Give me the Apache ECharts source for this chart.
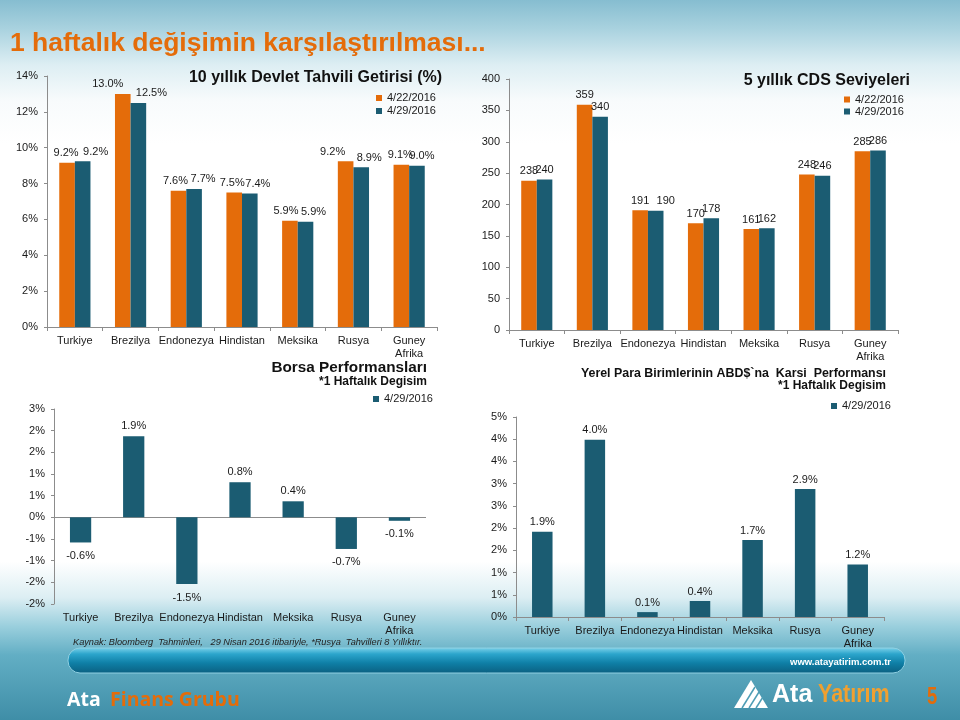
<!DOCTYPE html>
<html><head><meta charset="utf-8">
<script src="https://cdn.jsdelivr.net/npm/echarts@6/dist/echarts.min.js"></script>
<style>html,body{margin:0;padding:0;background:#fff}#c{width:960px;height:720px}</style>
</head><body><div id="c"></div>
<script>
// ---- data ----
const categories = ['Turkiye','Brezilya','Endonezya','Hindistan','Meksika','Rusya','Guney\nAfrika'];
const dates = ['4/22/2016','4/29/2016'];
const bondApr22 = [9.16, 13.0, 7.6, 7.5, 5.93, 9.24, 9.05];
const bondApr29 = [9.24, 12.5, 7.7, 7.44, 5.87, 8.91, 9.0];
const cdsApr22 = [238, 359, 191, 170, 161, 248, 285];
const cdsApr29 = [240, 340, 190, 178, 162, 246, 286];
const borsaApr29 = [-0.58, 1.87, -1.54, 0.81, 0.37, -0.73, -0.08];
const fxApr29 = [1.92, 3.99, 0.11, 0.36, 1.73, 2.88, 1.18];
const bondTicks = ['0%','2%','4%','6%','8%','10%','12%','14%'];
const borsaTicks = ['-2%','-2%','-1%','-1%','0%','1%','1%','2%','2%','3%'];
const fxTicks = ['0%','1%','1%','2%','2%','3%','3%','4%','4%','5%'];

// ---- style: horizontal nudges of the value labels (px), as placed in the original ----
const bondLabelShift22 = [-1, -15, -3, -2, -4, -13, -1];
const bondLabelShift29 = [13, 13, 9, 8, 8, 8, 5];
const cdsLabelShift29 = [0, 0, 10, 0, 0, 0, 0];

const ORANGE = '#E46C0A', TEAL = '#1B5C72';
const FONT = '"Liberation Sans", Arial, sans-serif';
const txt = '#1a1a1a';
const AXC = '#8c8c8c';

function yAx(grid, min, max, interval, fmt) {
  return {type:'value', gridIndex:grid, min, max, interval,
    axisLine:{show:true, onZero:false, lineStyle:{color:AXC}},
    axisTick:{show:true, length:3, lineStyle:{color:AXC}},
    splitLine:{show:false},
    axisLabel:{formatter:fmt, color:txt, fontSize:11, fontFamily:FONT, margin:9}};
}
function xAx(grid, opts) {
  return Object.assign({type:'category', gridIndex:grid, data:categories, position:'bottom',
    axisLine:{show:true, onZero:false, lineStyle:{color:AXC}},
    axisTick:{show:true, length:4, interval:0, lineStyle:{color:AXC}},
    axisLabel:{color:txt, fontSize:11, fontFamily:FONT, margin:7, lineHeight:13, interval:0}}, opts||{});
}
function lbl(fmt) {
  return {show:true, position:'top', distance:4, color:txt, fontSize:11, fontFamily:FONT, formatter:fmt};
}
const pct1 = p => p.value.toFixed(1) + '%';
const withShift = (vals, shifts) => vals.map((v,i) => ({value:v, label:{offset:[shifts[i],0]}}));

const chart = echarts.init(document.getElementById('c'), null, {renderer:'canvas'});

const bgGrad = new echarts.graphic.LinearGradient(0,0,0,1,[
  {offset:0, color:'#86BDD0'},{offset:0.04, color:'#A9D2DF'},{offset:0.09, color:'#DDEEF3'},
  {offset:0.14, color:'#F8FBFC'},{offset:0.2, color:'#FFFFFF'},{offset:0.78, color:'#FFFFFF'},
  {offset:0.83, color:'#DCEEF3'},{offset:0.87, color:'#9ACFDD'},{offset:0.91, color:'#62AEC4'},
  {offset:1, color:'#3F8EA7'}]);
const barGrad = new echarts.graphic.LinearGradient(0,0,0,1,[
  {offset:0, color:'#7FD3EA'},{offset:0.25, color:'#2CA5CC'},{offset:0.6, color:'#0F7FA6'},{offset:1, color:'#0B5F80'}]);

const legendBase = {orient:'vertical', padding:0, itemWidth:6, itemHeight:6, icon:'rect', textStyle:{fontSize:11, color:txt, fontFamily:FONT}};

chart.setOption({
  animation:false,
  textStyle:{fontFamily:FONT},
  graphic:[
    {type:'rect', z:-10, shape:{x:0,y:0,width:960,height:720}, style:{fill:bgGrad}},
    {type:'rect', z:-5, shape:{x:68,y:648,width:837,height:25,r:12}, style:{fill:barGrad, stroke:'#8fd0e2', lineWidth:1}},
    {type:'text', x:10, y:44, style:{text:'1 haftalık değişimin karşılaştırılması...', font:'bold 26.5px '+FONT, fill:ORANGE, verticalAlign:'middle'}},
    {type:'text', x:315.5, y:78, style:{text:'10 yıllık Devlet Tahvili Getirisi (%)', font:'bold 16px '+FONT, fill:'#111', align:'center', verticalAlign:'middle'}},
    {type:'text', x:910, y:81, style:{text:'5 yıllık CDS Seviyeleri', font:'bold 16px '+FONT, fill:'#111', align:'right', verticalAlign:'middle'}},
    {type:'text', x:427, y:368, style:{text:'Borsa Performansları', font:'bold 15.3px '+FONT, fill:'#111', align:'right', verticalAlign:'middle'}},
    {type:'text', x:427, y:382, style:{text:'*1 Haftalık Degisim', font:'bold 12px '+FONT, fill:'#111', align:'right', verticalAlign:'middle'}},
    {type:'text', x:886, y:374, style:{text:'Yerel Para Birimlerinin ABD$`na  Karsi  Performansı', font:'bold 12.4px '+FONT, fill:'#111', align:'right', verticalAlign:'middle'}},
    {type:'text', x:886, y:386, style:{text:'*1 Haftalık Degisim', font:'bold 12px '+FONT, fill:'#111', align:'right', verticalAlign:'middle'}},
    {type:'text', x:73, y:642.5, style:{text:'Kaynak: Bloomberg  Tahminleri,   29 Nisan 2016 itibariyle, *Rusya  Tahvilleri 8 Yıllıktır.', font:'italic 9.2px '+FONT, fill:'#222', verticalAlign:'middle'}},
    {type:'text', x:891, y:662, style:{text:'www.atayatirim.com.tr', font:'bold 9.5px '+FONT, fill:'#fff', align:'right', verticalAlign:'middle'}},
    {type:'text', x:67, y:700, style:{text:'Ata', font:'bold 19.5px "Open Sans", sans-serif', fill:'#fff', verticalAlign:'middle'}},
    {type:'text', x:110, y:700, style:{text:'Finans Grubu', font:'bold 19.5px "Open Sans", sans-serif', fill:ORANGE, verticalAlign:'middle'}},
    {type:'polygon', shape:{points:[[751,680],[734,708],[768,708]]}, style:{fill:'#fff'}},
    {type:'polyline', shape:{points:[[742,708],[755,687]]}, style:{stroke:'#4e9db5', lineWidth:1.5}},
    {type:'polyline', shape:{points:[[749,708],[759,692]]}, style:{stroke:'#4e9db5', lineWidth:1.5}},
    {type:'polyline', shape:{points:[[756,708],[763,697]]}, style:{stroke:'#4e9db5', lineWidth:1.5}},
    {type:'text', x:772, y:695, style:{text:'Ata', font:'bold 25px '+FONT, fill:'#fff', verticalAlign:'middle'}},
    {type:'text', x:818, y:695, scaleX:0.86, originX:0, style:{text:'Yatırım', font:'bold 25px '+FONT, fill:'#F0A030', verticalAlign:'middle'}},
    {type:'text', x:927, y:698, scaleX:0.8, originX:0, style:{text:'5', font:'bold 23px '+FONT, fill:ORANGE, verticalAlign:'middle'}}
  ],
  legend:[
    Object.assign({data:dates, left:376, top:92.5, itemGap:2}, legendBase),
    Object.assign({data:dates, left:844, top:94, itemGap:1}, legendBase),
    Object.assign({data:[dates[1]], left:373, top:393.5}, legendBase),
    Object.assign({data:[dates[1]], left:831, top:400.5}, legendBase)
  ],
  grid:[
    {left:47, top:76, width:390, height:251},
    {left:509, top:79, width:389, height:251},
    {left:54, top:409, width:372, height:195},
    {left:516, top:417, width:368, height:200}
  ],
  xAxis:[
    xAx(0), xAx(1),
    xAx(2, {axisLine:{show:false, onZero:false}, axisTick:{show:false}}),
    xAx(3)
  ],
  yAxis:[
    yAx(0, 0, 14, 2, (v,i)=>bondTicks[i]),
    yAx(1, 0, 400, 50, v=>String(v)),
    yAx(2, -2, 2.5, 0.5, (v,i)=>borsaTicks[i]),
    yAx(3, 0, 4.5, 0.5, (v,i)=>fxTicks[i])
  ],
  series:[
    {name:dates[0], type:'bar', xAxisIndex:0, yAxisIndex:0, data:withShift(bondApr22, bondLabelShift22), itemStyle:{color:ORANGE}, barGap:'0%', barCategoryGap:'44%', label:lbl(pct1)},
    {name:dates[1], type:'bar', xAxisIndex:0, yAxisIndex:0, data:withShift(bondApr29, bondLabelShift29), itemStyle:{color:TEAL}, barGap:'0%', barCategoryGap:'44%', label:lbl(pct1)},
    {name:dates[0], type:'bar', xAxisIndex:1, yAxisIndex:1, data:cdsApr22, itemStyle:{color:ORANGE}, barGap:'0%', barCategoryGap:'44%', label:lbl(p=>String(p.value))},
    {name:dates[1], type:'bar', xAxisIndex:1, yAxisIndex:1, data:withShift(cdsApr29, cdsLabelShift29), itemStyle:{color:TEAL}, barGap:'0%', barCategoryGap:'44%', label:lbl(p=>String(p.value))},
    {name:dates[1], type:'bar', xAxisIndex:2, yAxisIndex:2, itemStyle:{color:TEAL}, barWidth:'40%',
      data: borsaApr29.map(v => ({value:v, label:{position: v < 0 ? 'bottom' : 'top', distance: v < 0 ? 8 : 5}})),
      label:{show:true, position:'top', distance:5, color:txt, fontSize:11, fontFamily:FONT, formatter:pct1},
      markLine:{silent:true, symbol:'none', label:{show:false}, animation:false, z:1,
        lineStyle:{color:AXC, type:'solid', width:1}, emphasis:{disabled:true},
        data:[{yAxis:0}]}},
    {name:dates[1], type:'bar', xAxisIndex:3, yAxisIndex:3, data:fxApr29, itemStyle:{color:TEAL}, barWidth:'39%', label:lbl(pct1)}
  ]
});
</script></body></html>
